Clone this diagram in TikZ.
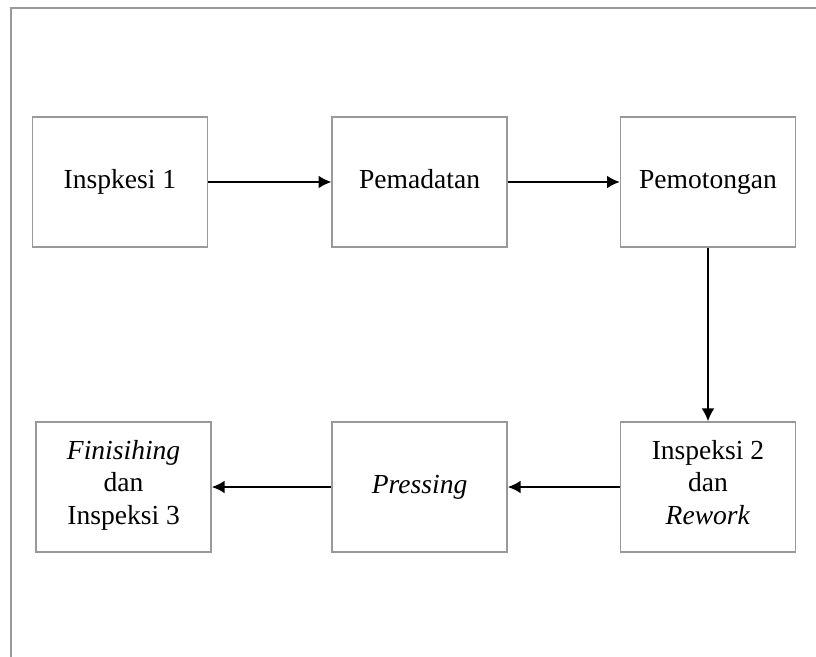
\documentclass[tikz,border=0pt]{standalone}
\usepackage{fontspec}
\setmainfont{Liberation Serif}
\usetikzlibrary{positioning, arrows.meta}
\tikzset{
	procbox/.style={draw=gray!80, line width=1pt, minimum width=4.375cm, minimum height=3.25cm,
		align=center, inner sep=0pt, font=\fontsize{19.6}{23}\selectfont,
		execute at begin node=\strut, execute at end node=\strut}
}
\tikzset{
	flowline/.style={line width=1.4pt, ->}
}

\begin{document}
\begin{tikzpicture}[>={Latex[length=3.2mm,width=3.2mm]}]
      \useasboundingbox (0,0) rectangle (20.4,16.425);
      % outer frame
      \draw[gray!80, line width=1pt] (0.275,0) -- (0.275,16.225) -- (20.4,16.225);
      % top row
      \node[procbox] (insp1) at (3.0,11.875) {Inspkesi 1};
      \node[procbox] (padat) at (10.49,11.875) {Pemadatan};
      \node[procbox] (potong) at (17.7,11.875) {Pemotongan};
      % bottom row
      \node[procbox] (insp2) at (17.7,4.25) {Inspeksi 2\\ dan\\ \textit{Rework}};
      \node[procbox] (press) at (10.49,4.25) {\textit{Pressing}};
      \node[procbox] (finish) at (3.09,4.25) {\textit{Finisihing}\\ dan\\ Inspeksi 3};
      \draw[flowline] (insp1) -- (padat);
      \draw[flowline] (padat) -- (potong);
      \draw[flowline] (potong) -- (insp2);
      \draw[flowline] (insp2) -- (press);
      \draw[flowline] (press) -- (finish);
    \end{tikzpicture}
\end{document}
